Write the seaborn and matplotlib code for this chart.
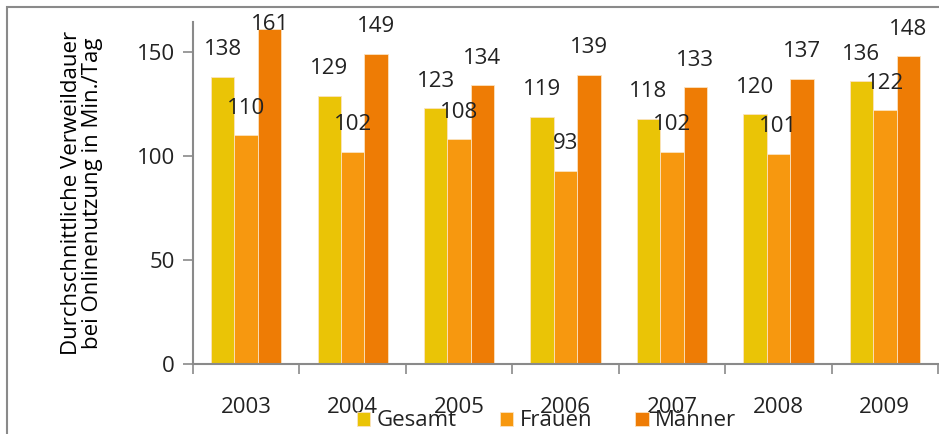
import pandas as pd
import matplotlib.pyplot as plt
import seaborn as sns
from matplotlib.patches import Rectangle

# Data
years = ["2003", "2004", "2005", "2006", "2007", "2008", "2009"]
gesamt = [138, 129, 123, 119, 118, 120, 136]
frauen = [110, 102, 108, 93, 102, 101, 122]
maenner = [161, 149, 134, 139, 133, 137, 148]
series = ["Gesamt", "Frauen", "Männer"]
colors = ["#EAC406", "#F7980F", "#EE7C05"]

df = pd.DataFrame({"Jahr": years, "Gesamt": gesamt, "Frauen": frauen, "Männer": maenner})
df_long = df.melt(id_vars="Jahr", var_name="Gruppe", value_name="Minuten")

sns.set_style("white")
plt.rcParams["font.family"] = ["Open Sans", "DejaVu Sans"]
fs = 16
text_col = "#222222"
spine_col = "#8a8a8a"

fig = plt.figure(figsize=(9.39, 4.34), dpi=100)
ax = fig.add_axes([0.2055, 0.1613, 0.7935, 0.7877])

sns.barplot(data=df_long, x="Jahr", y="Minuten", hue="Gruppe", hue_order=series,
            palette=colors, width=0.66, gap=0, edgecolor="#fbe3c0", linewidth=0.6,
            saturation=1, ax=ax)

ymax = 164.4
ax.set_ylim(0, ymax)
ax.set_xlim(-0.5, len(years) - 0.5)

# Value labels
for cont in ax.containers:
    for bar in cont:
        v = bar.get_height()
        x = bar.get_x() + bar.get_width() / 2
        y = min(v, ymax - 14)
        ax.annotate(f"{v:.0f}", (x, y), xytext=(0, 12), textcoords="offset points",
                    ha="center", va="bottom", fontsize=fs, color=text_col)

# Axes styling
sns.despine(ax=ax)
for s in ["left", "bottom"]:
    ax.spines[s].set_color(spine_col)
    ax.spines[s].set_linewidth(1.5)
ax.set_yticks([0, 50, 100, 150])
ax.tick_params(axis="y", length=7, width=1.2, color=spine_col, labelsize=fs,
               labelcolor=text_col, pad=6, direction="out", left=True)
ax.set_xticks(range(len(years)))
ax.set_xticks([i - 0.5 for i in range(len(years) + 1)], minor=True)
ax.tick_params(axis="x", which="major", length=0, labelsize=fs, labelcolor=text_col, pad=24)
ax.tick_params(axis="x", which="minor", length=7, width=1.2, color=spine_col,
               direction="out", bottom=True)
ax.set_xlabel("")
ax.set_ylabel("Durchschnittliche Verweildauer\nbei Onlinenutzung in Min./Tag",
              fontsize=fs, color="black", labelpad=24, linespacing=1.0)

# Legend
handles, labels = ax.get_legend_handles_labels()
ax.legend_.remove()
fig.legend(handles, labels, loc="center", bbox_to_anchor=(0.582, 0.03), ncol=3,
           frameon=False, fontsize=fs, handlelength=0.6, handleheight=0.6,
           handletextpad=0.28, columnspacing=1.95, labelcolor=text_col, borderpad=0)

# Outer frame
fig.patches.append(Rectangle((7 / 939, -0.1), 1.2, 1.1 - 7 / 434, transform=fig.transFigure,
                             fill=False, edgecolor=spine_col, linewidth=1.5))

plt.savefig("out.png", dpi=100)
